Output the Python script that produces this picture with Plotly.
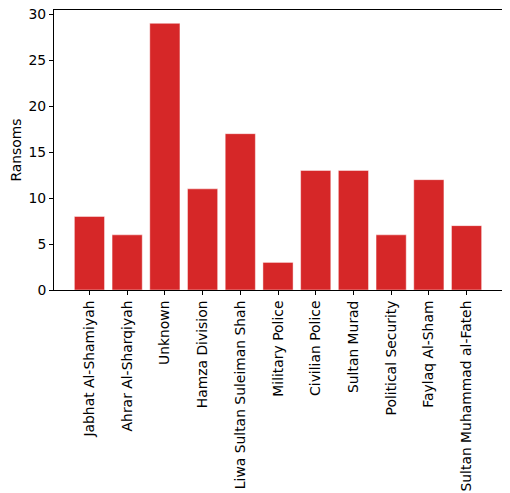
import plotly.graph_objects as go

groups = ["Jabhat Al-Shamiyah", "Ahrar Al-Sharqiyah", "Unknown", "Hamza Division",
          "Liwa Sultan Suleiman Shah", "Military Police", "Civilian Police",
          "Sultan Murad", "Political Security", "Faylaq Al-Sham",
          "Sultan Muhammad al-Fateh"]
ransoms = [8, 6, 29, 11, 17, 3, 13, 13, 6, 12, 7]
y_ticks = [0, 5, 10, 15, 20, 25, 30]

fig = go.Figure()
fig.add_trace(go.Bar(
    x=list(range(len(groups))),
    y=ransoms,
    width=0.8,
    marker=dict(color="#d62728", line=dict(color="rgba(255,255,255,0.45)", width=1)),
))

axis_common = dict(
    showline=True, linecolor="black", linewidth=1, mirror=True,
    ticks="outside", ticklen=4, tickcolor="black",
    showgrid=False, zeroline=False, automargin=False,
    ticklabeloverflow="allow",
    tickfont=dict(family="DejaVu Sans", size=13.9, color="black"),
)

# page body adds an 8px margin, so the figure is a bit smaller than the window
fig.update_layout(
    width=502, height=485,
    margin=dict(l=46, r=8, t=2, b=203, pad=0),
    plot_bgcolor="white", paper_bgcolor="white",
    showlegend=False,
    font=dict(family="DejaVu Sans", size=13.9, color="black"),
    xaxis=dict(tickvals=list(range(len(groups))), ticktext=groups,
               tickangle=-90, range=[-0.94, 10.94], **axis_common),
    yaxis=dict(tickvals=y_ticks, range=[0, 30.45],
               title=dict(text="Ransoms", standoff=6, font=dict(size=13.9)),
               **axis_common),
)

fig.write_html("out.html")
